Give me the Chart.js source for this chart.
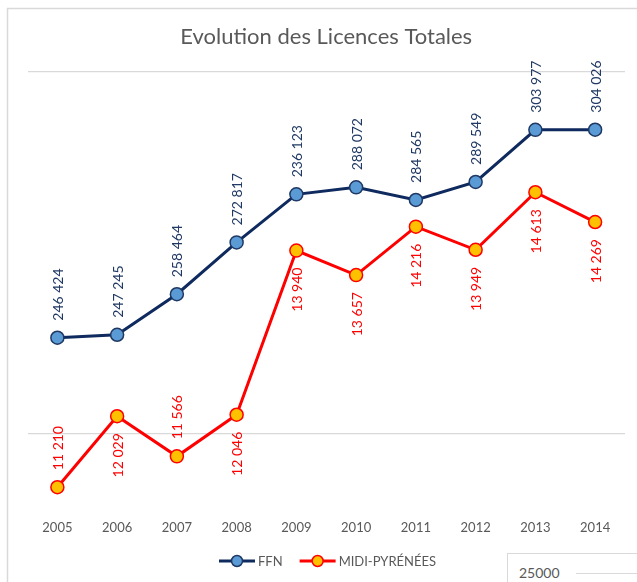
<!DOCTYPE html>
<html>
<head>
<meta charset="utf-8">
<script src="https://cdn.jsdelivr.net/npm/chart.js@4.4.1/dist/chart.umd.min.js"></script>
<style>
    body{margin:0;background:#fff;}
    #wrap{position:relative;width:637px;height:582px;overflow:hidden;}
    #other{position:absolute;left:507px;top:553px;width:140px;height:40px;border-left:1.5px solid #d9d9d9;border-top:1.5px solid #d9d9d9;background:#fff;}
    #other span{position:absolute;left:11px;top:10px;font:14px Lato;color:#595959;}
    #other div{position:absolute;left:68px;top:19px;width:80px;border-top:1px solid #d9d9d9;}
</style>
</head>
<body>
<div id="wrap">
    <canvas id="licChart" width="637" height="582"></canvas>
    <div id="other"><span>25000</span><div></div></div>
</div>
<script>
// donnees
var annees=['2005','2006','2007','2008','2009','2010','2011','2012','2013','2014'];
var ffn=[246424,247245,258464,272817,286123,288072,284565,289549,303977,304026];
var midi=[11210,12029,11566,12046,13940,13657,14216,13949,14613,14269];
// etiquettes telles qu'affichees sur le graphique
var ffnEtiquettes=['246 424','247 245','258 464','272 817','236 123','288 072','284 565','289 549','303 977','304 026'];
var midiEtiquettes=['11 210','12 029','11 566','12 046','13 940','13 657','14 216','13 949','14 613','14 269'];
var ffnGrille=[220000,320000];

var cadre={
    id:'cadre',
    beforeDraw:function(chart){
        var c=chart.ctx;
        c.save();
        c.fillStyle='#fff';
        c.fillRect(0,0,chart.width,chart.height);
        c.strokeStyle='#d9d9d9';
        c.lineWidth=1.5;
        c.beginPath();
        c.moveTo(7.5,chart.height);
        c.lineTo(7.5,8.5);
        c.lineTo(chart.width,8.5);
        c.stroke();
        c.restore();
    },
    afterDraw:function(chart){
        var c=chart.ctx;
        var a=chart.chartArea;
        c.save();
        // titre
        c.fillStyle='#595959';
        c.font='22px Lato';
        c.textAlign='center';
        c.textBaseline='middle';
        c.fillText('Evolution des Licences Totales',(a.left+a.right)/2,37);
        // legende
        c.font='13px Lato';
        c.textAlign='left';
        var x=219,y=561;
        chart.data.datasets.forEach(function(ds){
            c.strokeStyle=ds.borderColor;
            c.lineWidth=3;
            c.beginPath();
            c.moveTo(x,y);c.lineTo(x+36,y);
            c.stroke();
            c.beginPath();
            c.arc(x+18,y,5.5,0,Math.PI*2);
            c.fillStyle=ds.pointBackgroundColor;
            c.fill();
            c.lineWidth=1.5;
            c.strokeStyle=ds.pointBorderColor;
            c.stroke();
            c.fillStyle='#595959';
            c.fillText(ds.label,x+39,y+1);
            x+=39+c.measureText(ds.label).width+17;
        });
        c.restore();
    }
};

var etiquettes={
    id:'etiquettes',
    afterDatasetsDraw:function(chart,args,opts){
        var c=chart.ctx;
        chart.data.datasets.forEach(function(ds,i){
            var meta=chart.getDatasetMeta(i);
            var pos=opts.positions[i];
            meta.data.forEach(function(pt,j){
                var haut=pos[j]==='h';
                c.save();
                c.translate(pt.x+1,haut?pt.y-17:pt.y+17);
                c.rotate(-Math.PI/2);
                c.font='14px Lato';
                c.fillStyle=ds.labelColor;
                c.textBaseline='middle';
                c.textAlign=haut?'left':'right';
                c.fillText(ds.etiquettes[j],0,0);
                c.restore();
            });
        });
    }
};

var ctx=document.getElementById('licChart').getContext('2d');
var licChart=new Chart(ctx,{
    type:'line',
    data:{
        labels:annees,
        datasets:[{
            label:'FFN',
            data:ffn,
            etiquettes:ffnEtiquettes,
            labelColor:'#1f3864',
            yAxisID:'y',
            borderColor:'#0f2a5e',
            borderWidth:3,
            pointBackgroundColor:'#5b9bd5',
            pointBorderColor:'#1f3864',
            pointBorderWidth:1.5,
            pointRadius:6.5,
            tension:0
        },{
            label:'MIDI-PYRÉNÉES',
            data:midi,
            etiquettes:midiEtiquettes,
            labelColor:'#ff0000',
            yAxisID:'y1',
            borderColor:'#ff0000',
            borderWidth:3,
            pointBackgroundColor:'#ffc000',
            pointBorderColor:'#ff0000',
            pointBorderWidth:1.5,
            pointRadius:6.5,
            tension:0
        }]
    },
    options:{
        responsive:false,
        animation:false,
        layout:{padding:{left:27.5,right:12,top:72,bottom:31}},
        plugins:{
            legend:{display:false},
            tooltip:{enabled:false},
            etiquettes:{positions:[
                ['h','h','h','h','h','h','h','h','h','h'],
                ['h','b','h','b','b','b','b','b','b','b']
            ]}
        },
        scales:{
            x:{
                offset:true,
                grid:{display:false,drawTicks:false},
                border:{display:false},
                ticks:{color:'#595959',font:{family:'Lato',size:13},padding:15}
            },
            y:{
                position:'left',
                min:200000,
                max:320000,
                afterBuildTicks:function(axis){
                    axis.ticks=ffnGrille.map(function(v){return {value:v};});
                },
                ticks:{display:false},
                border:{display:false},
                grid:{color:'#d9d9d9',lineWidth:1.3,drawTicks:false}
            },
            y1:{
                display:false,
                min:11000,
                max:16000
            }
        }
    },
    plugins:[cadre,etiquettes]
});
</script>
</body>
</html>
